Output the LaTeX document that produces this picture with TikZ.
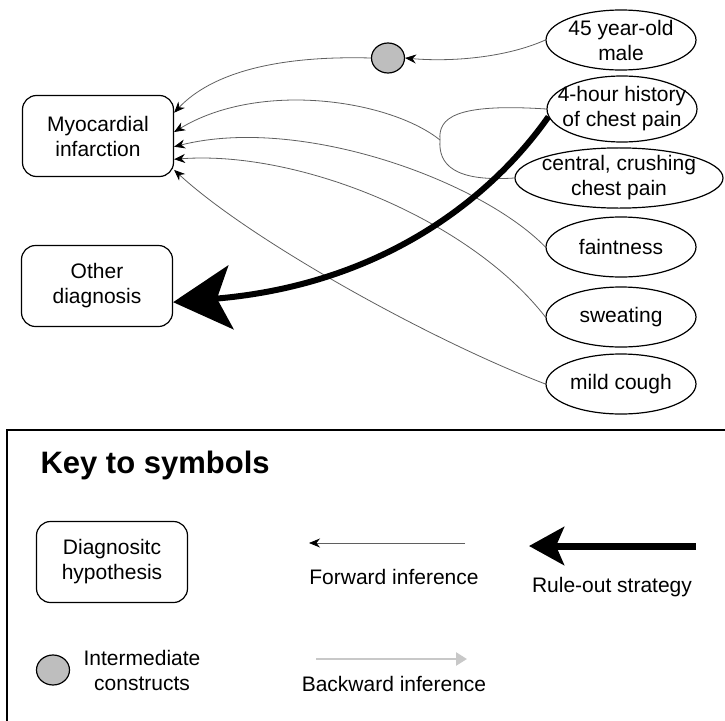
\documentclass[tikz,border=0pt]{standalone}
\usepackage{fontspec}
\setmainfont{Liberation Sans}
\usetikzlibrary{positioning,arrows.meta,shapes.geometric}
\definecolor{edgeGray}{RGB}{95,95,95}
\definecolor{icGray}{RGB}{190,190,190}
\definecolor{backGray}{RGB}{200,200,200}

\begin{document}
\begin{tikzpicture}[x=1pt,y=-1pt,font=\fontsize{21}{25}\selectfont,
  hyp/.style={draw,line width=1.2pt,rounded corners=14pt,minimum width=151pt,minimum height=81pt,align=center},
  fnd/.style={draw,line width=1.2pt,ellipse,minimum width=150pt,minimum height=60pt,inner sep=0pt,align=center},
  ic/.style={draw,line width=1.2pt,ellipse,fill=icGray,minimum width=33pt,minimum height=30pt,inner sep=0pt},
  fwd/.style={-{Stealth[length=11pt,width=9pt,color=black]},edgeGray,line width=0.8pt},
  back/.style={-{Triangle[length=11pt,width=13pt]},backGray,line width=2.5pt}]
\useasboundingbox (0,0) rectangle (725,720);

\node[hyp] (myo) at (98,136) {Myocardial\\infarction};
\node[hyp] (other) at (97,286) {Other\\diagnosis};
\node[ic] (ic) at (388,58) {};
\node[fnd] (male) at (621,40) {45 year-old\\male};
\node[fnd,inner xsep=-12pt,minimum height=66pt] (hist) at (622,109) {4-hour history\\of chest pain};
\node[fnd,inner xsep=-4pt,inner ysep=-1pt,minimum width=208pt] (crush) at (619,178) {central, crushing\\chest pain};
\node[fnd] (faint) at (621,247) {faintness};
\node[fnd] (sweat) at (621,317) {sweating};
\node[fnd] (cough) at (621,384) {mild cough};
\coordinate (j) at (440,140);

\draw[fwd] (male.west) .. controls (505,58) and (450,62) .. (ic.east);
\draw[fwd] (ic.west) .. controls (260,55) and (205,80) .. (myo.17);
\draw[edgeGray,line width=0.8pt] (hist.west) .. controls (455,103) and (438,118) .. (j);
\draw[edgeGray,line width=0.8pt] (crush.west) .. controls (455,182) and (438,165) .. (j);
\draw[fwd] (j) .. controls (390,100) and (260,80) .. (myo.3);
\draw[fwd] (faint.west) .. controls (480,180) and (300,115) .. (myo.-8);
\draw[fwd] (sweat.west) .. controls (470,220) and (300,150) .. (myo.-17);
\draw[fwd] (cough.west) .. controls (430,340) and (250,240) .. (myo.-24);
\draw[-{Stealth[length=58pt,width=64pt,inset=14pt]},line width=6pt] (hist.186) .. controls (490,200) and (380,285) .. (other.-12);

\draw[line width=1.5pt] (7,430) rectangle (745,745);
\node[anchor=base west,font=\bfseries\fontsize{31}{36}\selectfont] (keytitle) at (37,473) {Key to symbols};
\node[hyp] (khyp) at (112,562) {Diagnositc\\hypothesis};
\node[ic] (kic) at (53,670) {};
\node[align=center] (kictxt) at (142,670) {Intermediate\\constructs};
\node (kfwd) at (394,577) {Forward inference};
\node (krule) at (612,587) {Rule-out strategy};
\node (kback) at (394,684) {Backward inference};
\coordinate (fa) at (465,543);
\coordinate (fb) at (309,543);
\coordinate (ra) at (696,546);
\coordinate (rb) at (529,546);
\coordinate (ba) at (316,659);
\coordinate (bb) at (467,659);
\draw[fwd] (fa) -- (fb);
\draw[-{Stealth[length=35pt,width=38pt,inset=8pt]},line width=7pt] (ra) -- (rb);
\draw[back] (ba) -- (bb);
\end{tikzpicture}
\end{document}
